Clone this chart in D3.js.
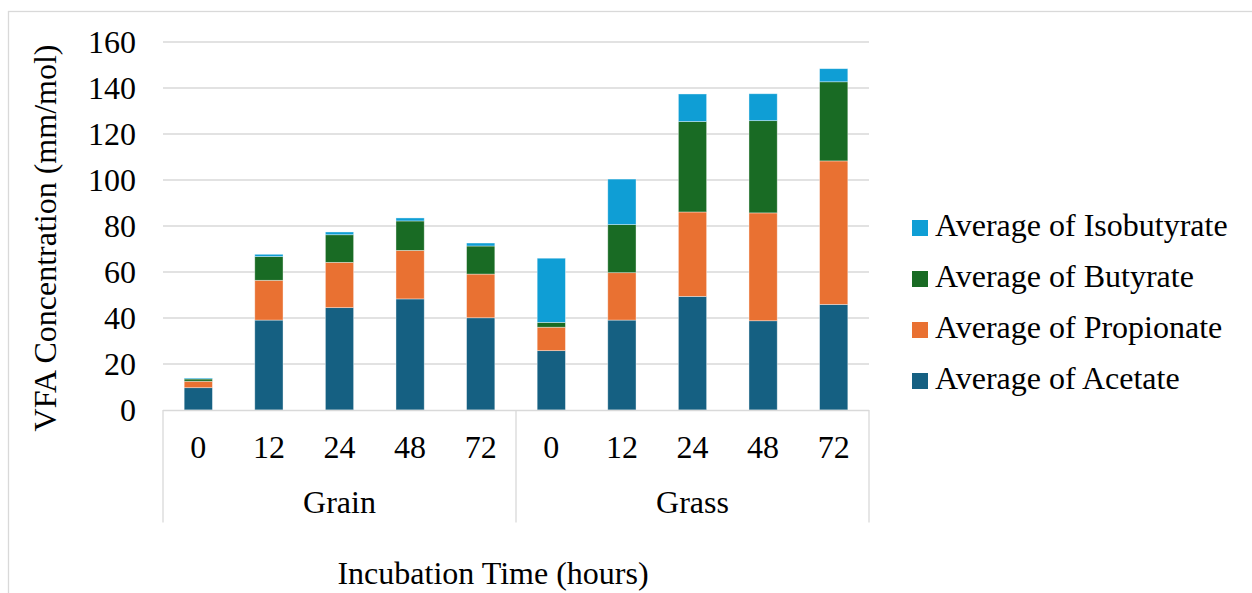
<!DOCTYPE html>
<html>
<head>
<meta charset="utf-8">
<script src="https://cdn.jsdelivr.net/npm/d3@7"></script>
<style>
  html, body { margin: 0; padding: 0; background: #fff; }
  svg { display: block; }
</style>
</head>
<body>
<svg id="chart" width="1252" height="593"></svg>
<script>
// ---- data ----
const groups = ["Grain", "Grass"];
const times = ["0", "12", "24", "48", "72"];
const seriesNames = ["Average of Acetate", "Average of Propionate", "Average of Butyrate", "Average of Isobutyrate"];
const acetate     = [9.7, 39.1, 44.5, 48.3, 40.1, 25.8, 39.1, 49.4, 38.8, 45.9];
const propionate  = [2.8, 17.3, 19.7, 21.1, 19.0, 10.2, 20.6, 36.7, 46.9, 62.4];
const butyrate    = [1.0, 10.3, 12.0, 12.8, 12.2, 2.1, 20.9, 39.3, 40.1, 34.4];
const isobutyrate = [0.4, 1.0, 1.2, 1.3, 1.3, 27.9, 19.8, 12.0, 11.7, 5.7];
const yTicks = [0, 20, 40, 60, 80, 100, 120, 140, 160];
const colors = ["#156082", "#E97132", "#196B24", "#0F9ED5"];

(function () {
const FONT = "'Liberation Serif', 'Times New Roman', Tinos, 'DejaVu Serif', serif";
// ---- build table ----
const keys = [];
groups.forEach(g => times.forEach(t => keys.push(g + "|" + t)));
const table = keys.map((k, i) => ({
  key: k,
  "Average of Acetate": acetate[i],
  "Average of Propionate": propionate[i],
  "Average of Butyrate": butyrate[i],
  "Average of Isobutyrate": isobutyrate[i]
}));
const stacked = d3.stack().keys(seriesNames)(table);

const svg = d3.select("#chart").attr("font-family", FONT);
const pLeft = 163, pRight = 869, pTop = 42, pBottom = 410;

const x = d3.scaleBand().domain(keys).range([pLeft, pRight]).paddingInner(0.6).paddingOuter(0.3);
const y = d3.scaleLinear().domain([0, 160]).range([pBottom, pTop]);

// chart border
svg.append("rect").attr("x", 8.5).attr("y", 11.5).attr("width", 1300).attr("height", 700)
  .attr("fill", "none").attr("stroke", "#d9d9d9").attr("stroke-width", 1.3);

// gridlines
svg.append("g").selectAll("line").data(yTicks.filter(d => d > 0)).join("line")
  .attr("x1", pLeft).attr("x2", pRight)
  .attr("y1", d => y(d)).attr("y2", d => y(d))
  .attr("stroke", "#d9d9d9").attr("stroke-width", 1.3);

// y tick labels
svg.append("g").selectAll("text").data(yTicks).join("text")
  .attr("x", 136).attr("y", d => y(d) + 10.5)
  .attr("text-anchor", "end").attr("font-size", 32).attr("font-family", FONT)
  .text(d => d);

// bars
svg.append("g").selectAll("g").data(stacked).join("g")
  .attr("fill", (d, i) => colors[i])
  .selectAll("rect").data(d => d).join("rect")
  .attr("x", d => x(d.data.key))
  .attr("width", x.bandwidth())
  .attr("y", d => y(d[1]))
  .attr("height", d => y(d[0]) - y(d[1]))
  .attr("stroke", "rgba(255,255,255,0.5)").attr("stroke-width", 0.75);

// category axis (multi-level)
const axisG = svg.append("g").attr("stroke", "#d9d9d9").attr("stroke-width", 1.3);
axisG.append("line").attr("x1", pLeft).attr("x2", pRight).attr("y1", pBottom + 0.5).attr("y2", pBottom + 0.5);
const half = (x.step() - x.bandwidth()) / 2;
const gx = groups.map((g, gi) => {
  const first = keys[gi * times.length], last = keys[gi * times.length + times.length - 1];
  return { name: g, x0: x(first) - half, x1: x(last) + x.bandwidth() + half };
});
gx[0].x0 = pLeft; gx[gx.length - 1].x1 = pRight;
const edges = [gx[0].x0].concat(gx.map(d => d.x1));
axisG.selectAll("line.v").data(edges).join("line").attr("class", "v")
  .attr("x1", d => d).attr("x2", d => d).attr("y1", pBottom).attr("y2", 522.5);

svg.append("g").selectAll("text").data(keys).join("text")
  .attr("x", d => x(d) + x.bandwidth() / 2).attr("y", 458)
  .attr("text-anchor", "middle").attr("font-size", 32).attr("font-family", FONT)
  .text(d => d.split("|")[1]);

svg.append("g").selectAll("text").data(gx).join("text")
  .attr("x", d => (d.x0 + d.x1) / 2).attr("y", 513)
  .attr("text-anchor", "middle").attr("font-size", 32).attr("font-family", FONT)
  .text(d => d.name);

// axis titles
svg.append("text").attr("x", 493).attr("y", 584).attr("text-anchor", "middle")
  .attr("font-size", 32).attr("font-family", FONT).text("Incubation Time (hours)");
svg.append("text").attr("transform", "translate(56,238) rotate(-90)")
  .attr("text-anchor", "middle").attr("font-size", 32).attr("font-family", FONT)
  .text("VFA Concentration (mm/mol)");

// legend (reverse order)
const legendOrder = seriesNames.map((s, i) => ({ name: s, color: colors[i] })).reverse();
const lg = svg.append("g").selectAll("g").data(legendOrder).join("g")
  .attr("transform", (d, i) => `translate(912, ${220 + i * 51})`);
lg.append("rect").attr("width", 16).attr("height", 16).attr("fill", d => d.color);
lg.append("text").attr("x", 23).attr("y", 16).attr("font-size", 32).attr("font-family", FONT)
  .text(d => d.name);
})();
</script>
</body>
</html>
